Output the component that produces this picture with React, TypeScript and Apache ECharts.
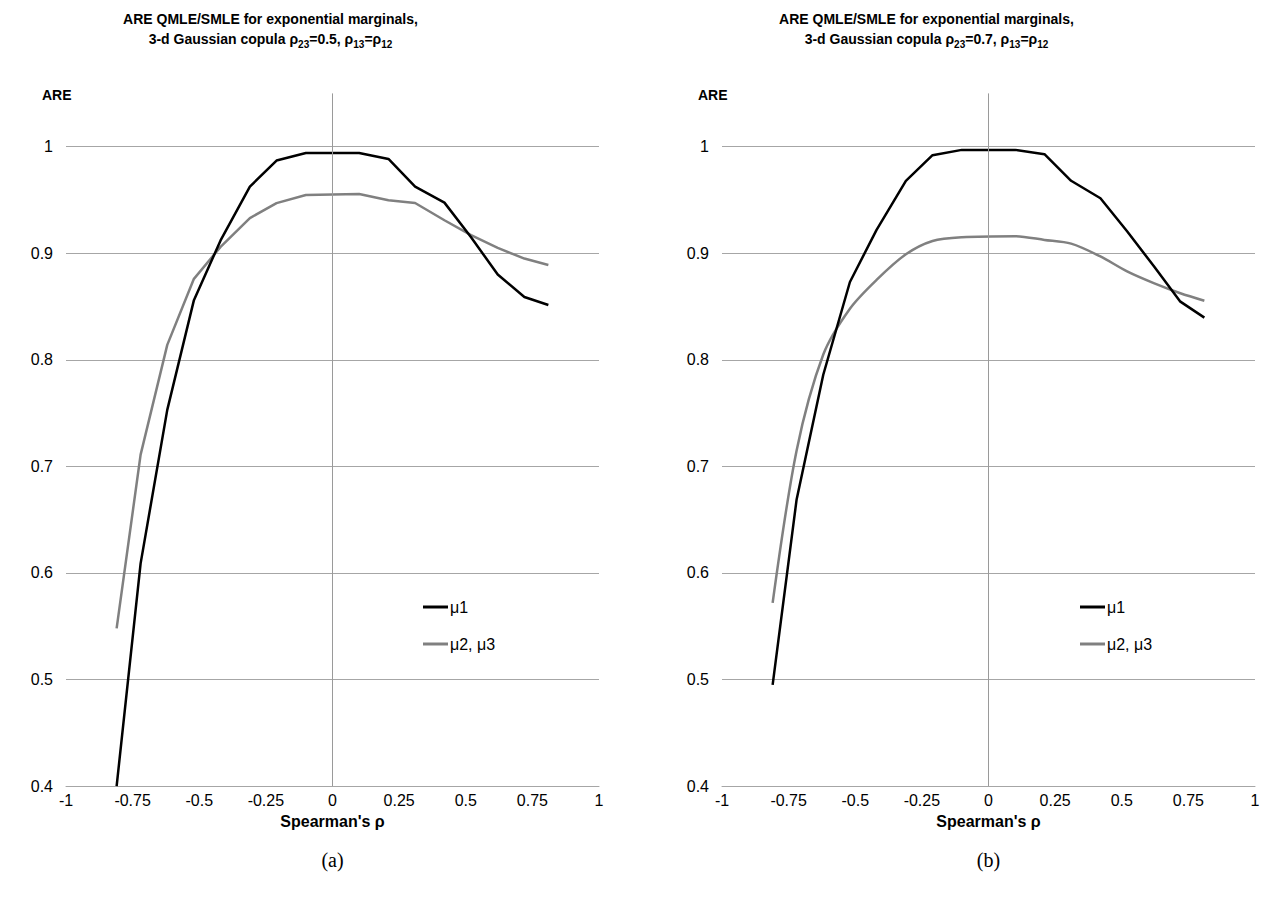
import React, { useEffect, useRef } from 'react';
import * as echarts from 'echarts';

const FONT = '"Liberation Sans", Arial, sans-serif';

// Spearman's rho positions of the computed points
const RHO = [-0.81, -0.72, -0.62, -0.52, -0.42, -0.31, -0.21, -0.10, 0.10, 0.21, 0.31, 0.42, 0.52, 0.62, 0.72, 0.81];

// (a) rho23 = 0.5
const A_MU1 = [0.400, 0.609, 0.753, 0.856, 0.912, 0.9625, 0.987, 0.994, 0.994, 0.9885, 0.9625, 0.9475, 0.915, 0.880, 0.859, 0.8515];
const A_MU23 = [0.548, 0.711, 0.814, 0.876, 0.906, 0.933, 0.947, 0.9547, 0.9556, 0.9497, 0.9472, 0.931, 0.917, 0.905, 0.895, 0.889];

// (b) rho23 = 0.7
const B_MU1 = [0.495, 0.669, 0.786, 0.873, 0.922, 0.968, 0.992, 0.997, 0.997, 0.993, 0.968, 0.9516, 0.9206, 0.888, 0.8546, 0.8396];
const B_MU23 = [0.572, 0.715, 0.805, 0.848, 0.875, 0.899, 0.9115, 0.915, 0.916, 0.9125, 0.909, 0.897, 0.883, 0.872, 0.8625, 0.8555];

const SERIES_NAMES = ['μ1', 'μ2, μ3'];
const TITLE_LINE1 = 'ARE QMLE/SMLE for exponential marginals,';
const RHO23 = ['0.5', '0.7'];
const CAPTIONS = ['(a)', '(b)'];

const pairs = (xs: number[], ys: number[]) => xs.map((x, i) => [x, ys[i]]);

export default function App() {
  const ref = useRef<HTMLDivElement>(null);
  useEffect(() => {
    if (!ref.current) return;
    const chart = echarts.init(ref.current, undefined, { renderer: 'svg' });

    const grids = [
      { left: 66, width: 533, top: 93.4, height: 692.7 },
      { left: 722, width: 533, top: 93.4, height: 692.7 },
    ];
    const centers = [332.5, 988.5];

    const xAxes = grids.map((_, i) => ({
      type: 'value',
      gridIndex: i,
      min: -1,
      max: 1,
      interval: 0.25,
      name: "Spearman's ρ",
      nameLocation: 'middle',
      nameGap: 23,
      nameTextStyle: { fontFamily: FONT, fontWeight: 'bold', fontSize: 16, color: '#000' },
      axisLine: { show: true, lineStyle: { color: '#a6a6a6', width: 1 } },
      axisTick: { show: false },
      splitLine: { show: false },
      axisLabel: { fontFamily: FONT, fontSize: 16, color: '#000', margin: 6 },
    }));

    const yAxes = grids.map((_, i) => ({
      type: 'value',
      gridIndex: i,
      min: 0.4,
      max: 1.05,
      interval: 0.1,
      axisLine: { show: false },
      axisTick: { show: false },
      splitLine: { show: true, showMaxLine: false, lineStyle: { color: '#a6a6a6', width: 1 } },
      axisLabel: {
        fontFamily: FONT,
        fontSize: 16,
        color: '#000',
        margin: 13,
        showMaxLabel: false,
        formatter: (v: number) => (v > 1.001 ? '' : String(Math.round(v * 10) / 10)),
      },
    }));

    const data = [
      [A_MU1, A_MU23],
      [B_MU1, B_MU23],
    ];

    const series: any[] = [];
    grids.forEach((_, i) => {
      series.push({
        type: 'line',
        xAxisIndex: i,
        yAxisIndex: i,
        data: [],
        silent: true,
        z: 1,
        markLine: {
          silent: true,
          symbol: 'none',
          label: { show: false },
          lineStyle: { color: '#9a9a9a', type: 'solid', width: 1 },
          data: [{ xAxis: 0 }],
        },
      });
      series.push({
        type: 'line',
        name: SERIES_NAMES[1],
        xAxisIndex: i,
        yAxisIndex: i,
        data: pairs(RHO, data[i][1]),
        showSymbol: false,
        smooth: i === 1 ? 0.3 : false,
        color: '#808080',
        lineStyle: { color: '#808080', width: 2.5 },
        z: 2,
      });
      series.push({
        type: 'line',
        name: SERIES_NAMES[0],
        xAxisIndex: i,
        yAxisIndex: i,
        data: pairs(RHO, data[i][0]),
        showSymbol: false,
        color: '#000000',
        lineStyle: { color: '#000000', width: 2.5 },
        z: 3,
      });
    });

    const legends = [423, 1080].map((left) => ({
      data: SERIES_NAMES,
      left,
      top: 598,
      padding: 0,
      orient: 'vertical',
      icon: 'rect',
      itemWidth: 25,
      itemHeight: 3,
      itemGap: 19,
      selectedMode: false,
      textStyle: { fontFamily: FONT, fontSize: 16, lineHeight: 18, color: '#000', padding: [0, 0, 0, -3] },
    }));

    const graphics: any[] = [];
    centers.forEach((cx, i) => {
      graphics.push({
        type: 'text',
        x: cx - 62,
        y: 19,
        style: {
          text: TITLE_LINE1,
          font: `bold 14px ${FONT}`,
          fill: '#000',
          align: 'center',
          verticalAlign: 'middle',
        },
      });
      graphics.push({
        type: 'text',
        x: cx - 62,
        y: 29,
        style: {
          text: `{m|3-d Gaussian copula ρ}{s|23}{m|=${RHO23[i]}, ρ}{s|13}{m|=ρ}{s|12}`,
          align: 'center',
          fill: '#000',
          rich: {
            m: { fontFamily: FONT, fontWeight: 'bold', fontSize: 14, lineHeight: 20, fill: '#000' },
            s: { fontFamily: FONT, fontWeight: 'bold', fontSize: 10, lineHeight: 10, verticalAlign: 'bottom', fill: '#000' },
          },
        },
      });
      graphics.push({
        type: 'text',
        x: grids[i].left - 24,
        y: 95,
        style: {
          text: 'ARE',
          font: `bold 14px ${FONT}`,
          fill: '#000',
          align: 'left',
          verticalAlign: 'middle',
        },
      });
      graphics.push({
        type: 'text',
        x: cx,
        y: 860,
        style: {
          text: CAPTIONS[i],
          font: `20px "Liberation Serif", "DejaVu Serif", serif`,
          fill: '#000',
          align: 'center',
          verticalAlign: 'middle',
        },
      });
    });

    chart.setOption({
      animation: false,
      backgroundColor: '#ffffff',
      grid: grids,
      xAxis: xAxes,
      yAxis: yAxes,
      legend: legends,
      series,
      graphic: graphics,
    });

    return () => chart.dispose();
  }, []);

  return (
    <div
      ref={ref}
      style={{ position: 'absolute', left: 0, top: 0, width: 1273, height: 901 }}
    />
  );
}
